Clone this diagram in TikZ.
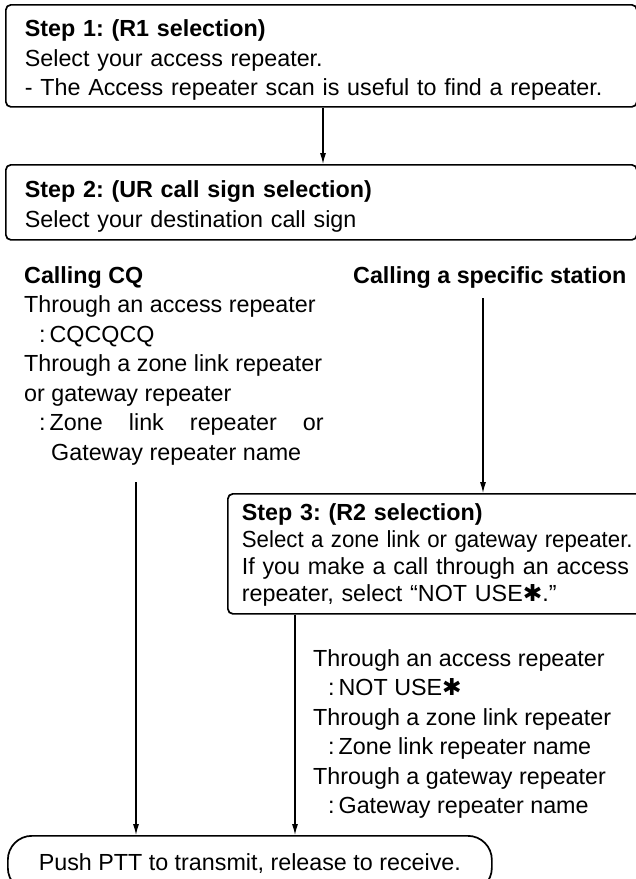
\documentclass[tikz,border=0pt]{standalone}
\usepackage{fontspec}
\setmainfont{Liberation Sans}
\newfontfamily\symbolfont{DejaVu Sans}
\usetikzlibrary{arrows.meta,positioning}
\frenchspacing
\newcommand{\heavystar}{{\symbolfont\char"2731}}
\newcommand{\colonitem}[1]{\hspace*{15bp}:\hspace{4bp}#1}
\newcommand{\topstrut}[1]{\rule{0pt}{#1}}
\newcommand{\botstrut}[1]{\rule[-#1]{0pt}{#1}}

\begin{document}
\begin{tikzpicture}[x=1bp, y=-1bp,
  flow/.style={-{Latex[length=11bp,width=6bp]}, line width=1.1bp},
  stepbox/.style={draw, line width=1.7bp, rounded corners=5bp, anchor=north west,
    text width=593bp, align=left, inner xsep=19bp, inner ysep=0pt,
    font=\fontsize{23.3bp}{29.5bp}\selectfont},
  listtext/.style={anchor=north west, inner sep=0pt, align=left,
    font=\fontsize{23.3bp}{29.5bp}\selectfont},
  endbox/.style={draw, line width=1.7bp, rounded corners=24bp, anchor=north west,
    minimum width=484bp, minimum height=56bp, inner sep=0pt,
    font=\fontsize{23.3bp}{28bp}\selectfont}
]
\useasboundingbox (0,0) rectangle (636,879);
\clip (0,0) rectangle (636,879);
% steps 1 and 2
\node[stepbox] (step1) at (5,4) {\topstrut{32bp}\textbf{Step 1: (R1 selection)}\\Select your access repeater.\\- The Access repeater scan is useful to find a repeater.\botstrut{11bp}};
\node[stepbox] (step2) at (5,164) {\topstrut{33bp}\textbf{Step 2: (UR call sign selection)}\\Select your destination call sign\botstrut{12.5bp}};
% the two ways to call
\node[listtext] (callcq) at (24,265) {\topstrut{18bp}\textbf{Calling CQ}\\Through an access repeater\\\colonitem{CQCQCQ}\\Through a zone link repeater\\or gateway repeater\\\colonitem{\makebox[274bp][s]{Zone link repeater or}}\\\hspace*{27bp}Gateway repeater name};
\node[listtext, anchor=base west] (callspec) at (353,283) {\textbf{Calling a specific station}};
% step 3
\node[stepbox, text width=700bp, inner xsep=14bp,
  font=\fontsize{23.3bp}{27bp}\selectfont] (step3) at (227,493) {\topstrut{27bp}\textbf{Step 3: (R2 selection)}\\\scalebox{0.955}[1]{Select a zone link or gateway repeater.}\\\makebox[390bp][s]{If you make a call through an access}\\repeater, select “NOT USE\heavystar.”\botstrut{12bp}};
\node[listtext] (r2list) at (313,648) {\topstrut{18bp}Through an access repeater\\\colonitem{NOT USE\heavystar}\\Through a zone link repeater\\\colonitem{Zone link repeater name}\\Through a gateway repeater\\\colonitem{Gateway repeater name}};
% last step
\node[endbox] (ptt) at (7,835) {Push PTT to transmit, release to receive.};
\coordinate (cqend) at (136,482);
\coordinate (specend) at (483,298);
\coordinate (r2x) at (295,0);
\draw[flow] (step1.south -| 323,0) -- (step2.north -| 323,0);
\draw[flow] (specend) -- (step3.north -| specend);
\draw[flow] (cqend) -- (ptt.north -| cqend);
\draw[flow] (step3.south -| r2x) -- (ptt.north -| r2x);
\end{tikzpicture}
\end{document}
